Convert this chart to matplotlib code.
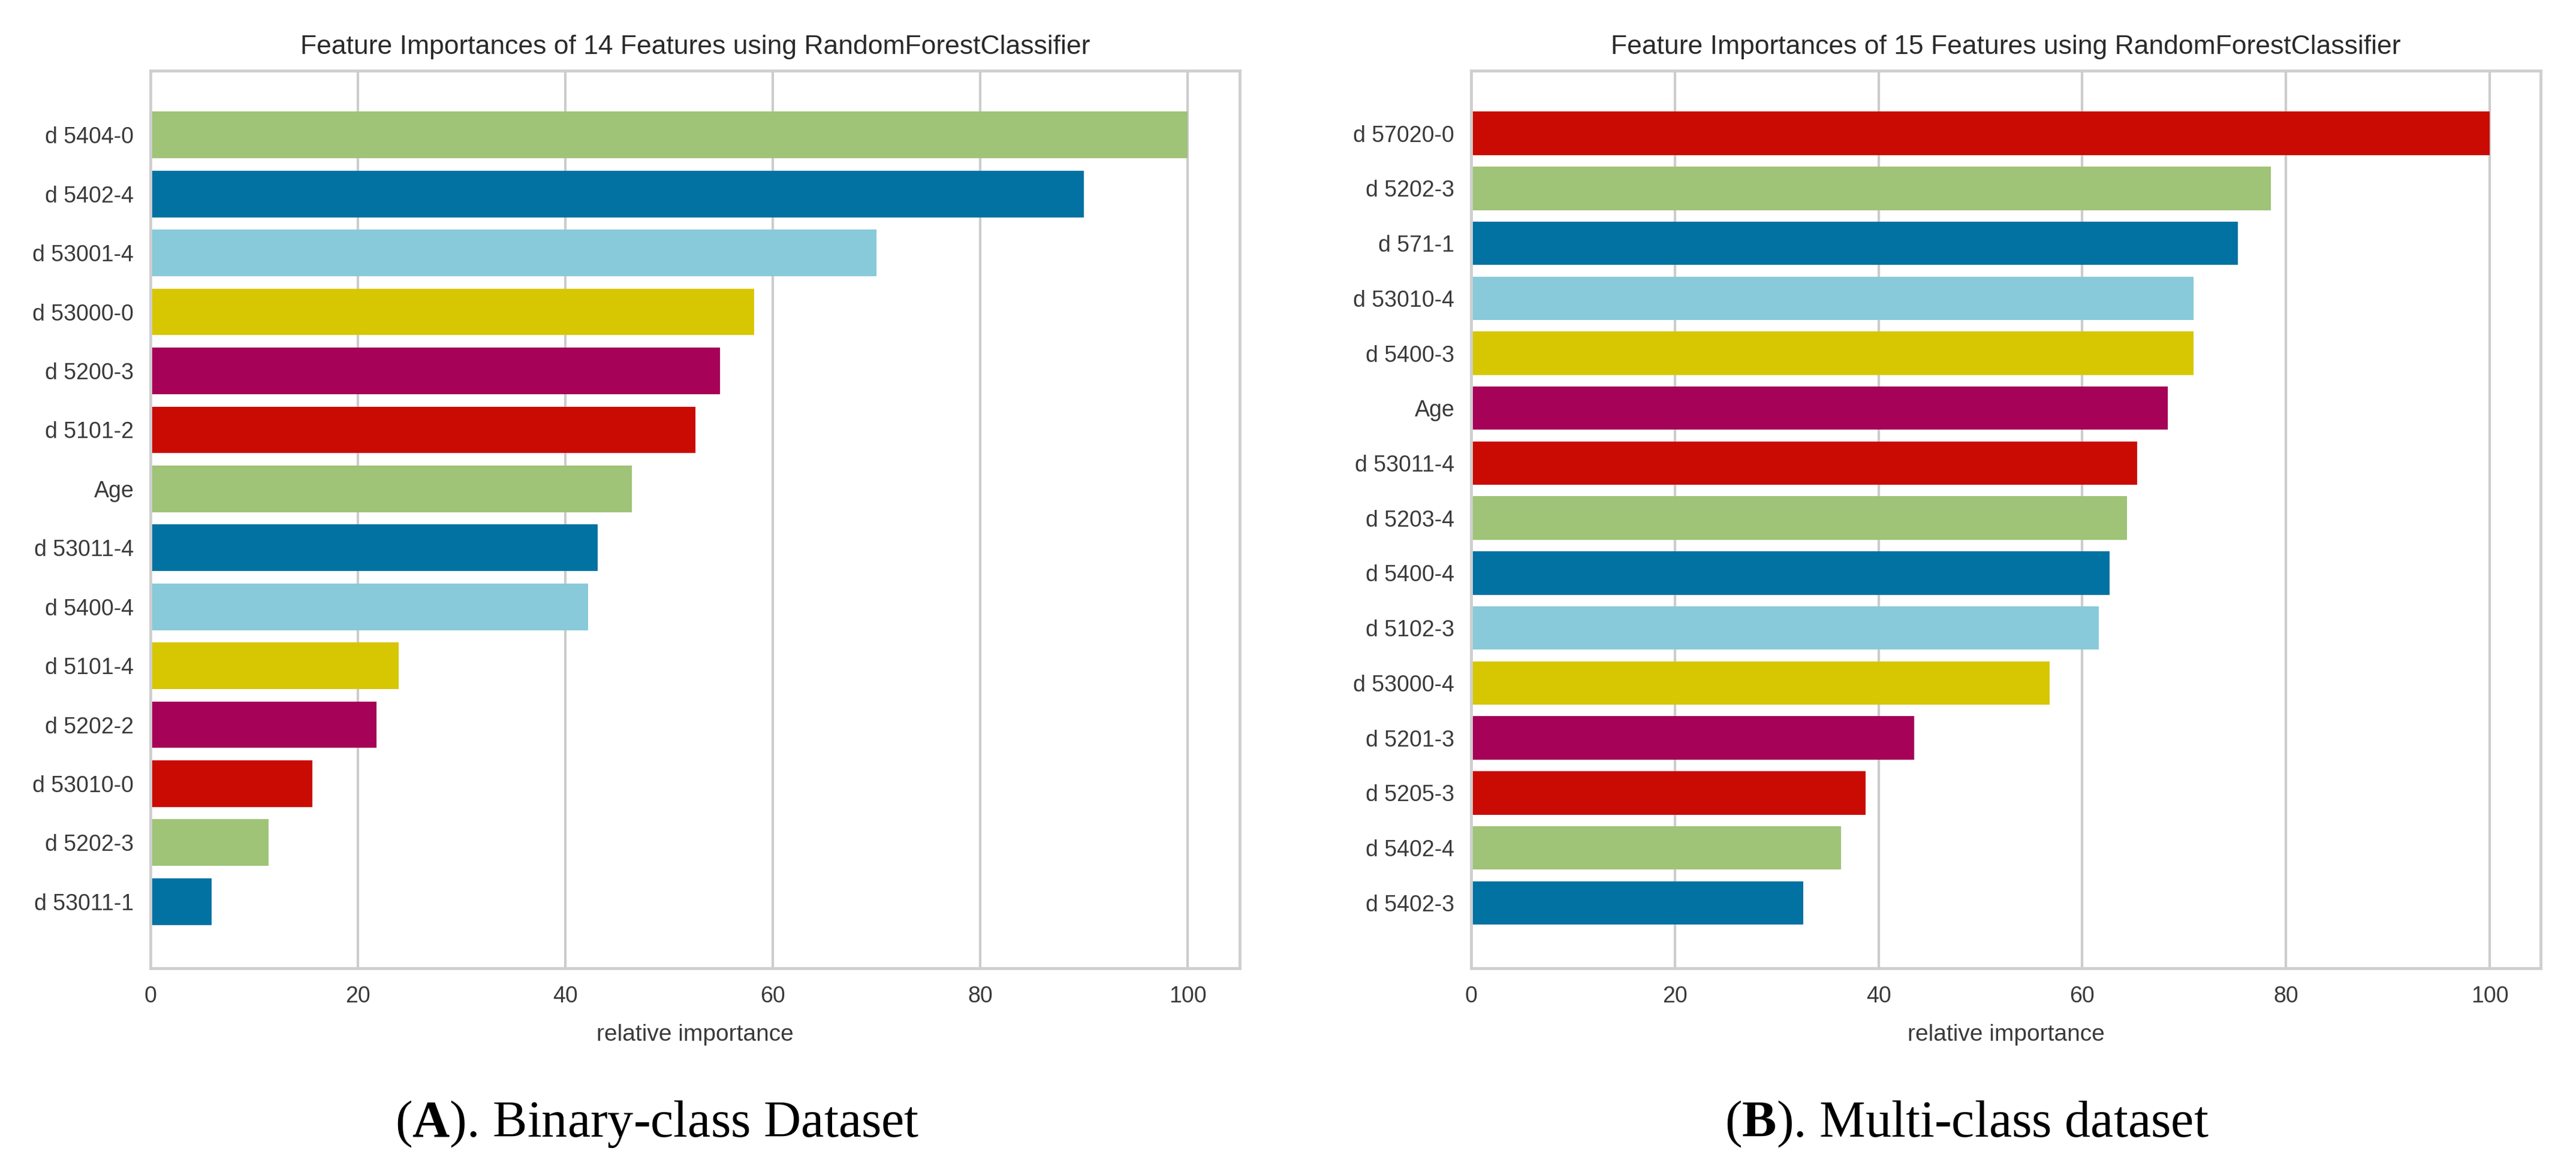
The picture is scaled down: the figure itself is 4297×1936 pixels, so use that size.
import numpy as np
import matplotlib
matplotlib.use("Agg")
import matplotlib.pyplot as plt

# feature names and relative importances, listed top to bottom as drawn
binary_features = ["d 5404-0", "d 5402-4", "d 53001-4", "d 53000-0", "d 5200-3",
                   "d 5101-2", "Age", "d 53011-4", "d 5400-4", "d 5101-4",
                   "d 5202-2", "d 53010-0", "d 5202-3", "d 53011-1"]
binary_importance = [100.0, 90.0, 70.0, 58.2, 54.9, 52.5, 46.4, 43.1, 42.2,
                     23.9, 21.8, 15.6, 11.4, 5.9]

multi_features = ["d 57020-0", "d 5202-3", "d 571-1", "d 53010-4", "d 5400-3",
                  "Age", "d 53011-4", "d 5203-4", "d 5400-4", "d 5102-3",
                  "d 53000-4", "d 5201-3", "d 5205-3", "d 5402-4", "d 5402-3"]
multi_importance = [100.0, 78.5, 75.3, 70.9, 70.9, 68.4, 65.4, 64.4, 62.7,
                    61.6, 56.8, 43.5, 38.7, 36.3, 32.6]

x_ticks = [0, 20, 40, 60, 80, 100]

# yellowbrick default palette, applied from the bottom bar upwards
palette = ["#0272a2", "#9fc377", "#ca0b03", "#a50258", "#d7c703", "#88cada"]

plt.rcParams["font.family"] = ["Liberation Sans", "DejaVu Sans"]
plt.rcParams["mathtext.fontset"] = "custom"
plt.rcParams["mathtext.rm"] = "Liberation Serif"
plt.rcParams["mathtext.bf"] = "Liberation Serif:bold"

W, H = 4297, 1936
fig = plt.figure(figsize=(W / 100, H / 100), dpi=100)
fig.patch.set_facecolor("white")

panels = [
    (binary_features, binary_importance, 251, 2068, (-1.13, 14.09)),
    (multi_features, multi_importance, 2454, 4238, (-1.19, 15.14)),
]
top_px, bot_px = 118, 1616


def draw_panel(ax, names, values, ylim):
    names = names[::-1]
    values = values[::-1]
    pos = np.arange(len(names))
    colors = [palette[i % len(palette)] for i in range(len(names))]
    ax.barh(pos, values, height=0.79, color=colors, zorder=2)
    ax.set_yticks(pos)
    ax.set_yticklabels(names)
    ax.set_ylim(*ylim)
    ax.set_xlim(0, 105)
    ax.set_xticks(x_ticks)
    ax.grid(axis="x", color="#cccccc", linewidth=3, zorder=0)
    ax.grid(axis="y", visible=False)
    for s in ax.spines.values():
        s.set_color("#cfcfcf")
        s.set_linewidth(3.5)
    ax.tick_params(axis="both", length=0, labelsize=27, colors="#3a3a3a")
    ax.tick_params(axis="x", pad=21)
    ax.tick_params(axis="y", pad=20)
    ax.set_title(f"Feature Importances of {len(names)} Features using RandomForestClassifier",
                 fontsize=32, color="#2a2a2a", pad=20)
    ax.set_xlabel("relative importance", fontsize=28, color="#3a3a3a", labelpad=20)


for names, values, x0, x1, ylim in panels:
    ax = fig.add_axes([x0 / W, 1 - bot_px / H, (x1 - x0) / W, (bot_px - top_px) / H])
    draw_panel(ax, names, values, ylim)

cap_font = dict(family=["Liberation Serif", "DejaVu Serif"], fontsize=62, color="black",
                ha="center", va="baseline")
for cx, letter, rest in [(1096, "A", "). Binary-class Dataset"),
                         (3281, "B", "). Multi-class dataset")]:
    fig.text(cx / W, 1 - 1897 / H, "(" + r"$\mathbf{" + letter + "}$" + rest, **cap_font)

fig.savefig("out.png", dpi=100, facecolor="white")
